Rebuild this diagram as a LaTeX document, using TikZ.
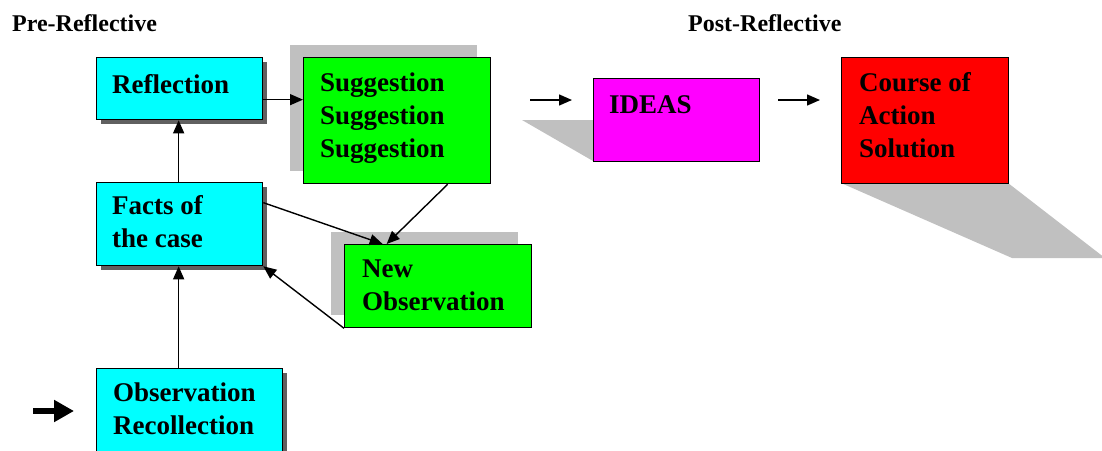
\documentclass[tikz,border=0pt]{standalone}
\usepackage{fontspec}
\setmainfont{Liberation Serif}
\usetikzlibrary{arrows.meta}

\definecolor{boxcyan}{RGB}{0,255,255}
\definecolor{boxgreen}{RGB}{0,255,0}
\definecolor{boxmagenta}{RGB}{255,0,255}
\definecolor{boxred}{RGB}{255,0,0}
\definecolor{panelgray}{RGB}{192,192,192}
\definecolor{edgeshadow}{RGB}{96,96,96}

\begin{document}
\begin{tikzpicture}[x=1pt,y=-1pt,
  box/.style={draw=black, line width=1.3pt, rectangle, inner sep=0pt, anchor=north west},
  cyanbox/.style={box, fill=boxcyan,
    preaction={fill=edgeshadow, transform canvas={xshift=4pt,yshift=-4pt}}},
  greenbox/.style={box, fill=boxgreen,
    preaction={fill=panelgray, transform canvas={xshift=-14pt,yshift=13pt}}},
  lbl/.style={anchor=base west, inner sep=0pt,
    font=\fontsize{27}{33}\selectfont\bfseries},
  head/.style={anchor=base west, inner sep=0pt,
    font=\fontsize{24}{28}\selectfont\bfseries},
  arr/.style={draw=black, line width=1.4pt, -{Triangle[length=13pt,width=11pt]}},
  bigarr/.style={draw=black, line width=5.5pt, -{Triangle[length=20pt,width=21pt]}}]

\useasboundingbox (0,0) rectangle (1102,450);

% headings
\node[head] (pre)  at (12,31)  {Pre-Reflective};
\node[head] (post) at (688,31) {Post-Reflective};

% perspective shadows of the post-reflective boxes
\fill[panelgray] (522,120) -- (680,120) -- (680,161) -- (593,161) -- cycle;
\fill[panelgray] (841,183) -- (1008,183) -- (1102,255.7) -- (1102,258) -- (1012,258) -- cycle;

% pre-reflective boxes
\node[cyanbox, minimum width=166pt, minimum height=62pt]  (refl)   at (96,57)  {};
\node[cyanbox, minimum width=166pt, minimum height=83pt]  (facts)  at (96,182) {};
\node[cyanbox, minimum width=186pt, minimum height=100pt] (obs)    at (96,368) {};
\node[greenbox, minimum width=187pt, minimum height=126pt] (sugg)  at (303,57) {};
\node[greenbox, minimum width=187pt, minimum height=83pt]  (newobs) at (344,244) {};

% post-reflective boxes
\node[box, fill=boxmagenta, minimum width=166pt, minimum height=83pt]  (ideas)  at (593,78) {};
\node[box, fill=boxred,     minimum width=167pt, minimum height=126pt] (course) at (841,57) {};

% box texts
\node[lbl] (t-refl)   at ([shift={(16,36)}]refl.north west)   {Reflection};
\node[lbl] (t-sugg)   at ([shift={(17,34)}]sugg.north west)   {\vtop{\hbox{Suggestion}\hbox{Suggestion}\hbox{Suggestion}}};
\node[lbl] (t-facts)  at ([shift={(16,32)}]facts.north west)  {\vtop{\hbox{Facts of}\hbox{the case}}};
\node[lbl] (t-obs)    at ([shift={(17,33)}]obs.north west)    {\vtop{\hbox{Observation}\hbox{Recollection}}};
\node[lbl] (t-newobs) at ([shift={(18,33)}]newobs.north west) {\vtop{\hbox{New}\hbox{Observation}}};
\node[lbl] (t-ideas)  at ([shift={(16,35)}]ideas.north west)  {IDEAS};
\node[lbl] (t-course) at ([shift={(18,34)}]course.north west) {\vtop{\hbox{Course of}\hbox{Action}\hbox{Solution}}};

% connectors
\draw[arr] ([xshift=-1pt]facts.south |- obs.north) -- ([xshift=-1pt]facts.south);
\draw[arr] ([xshift=-1pt]facts.north) -- ([xshift=-1pt]refl.south);
\draw[arr] ([yshift=-11pt]refl.east) -- ([yshift=-11pt]refl.east -| sugg.west);
\draw[arr] ([xshift=50.5pt]sugg.south) -- ([xshift=-51.5pt]newobs.north);
\draw[arr] ([yshift=21.5pt]facts.east) -- ([xshift=-55.5pt]newobs.north);
\draw[arr] (newobs.south west) -- (facts.south east);

% free-standing arrows
\coordinate (inA) at (33,411);
\coordinate (inB) at (74,411);
\draw[bigarr] (inA) -- (inB);
\coordinate (idA) at (530,100);
\coordinate (idB) at (572,100);
\draw[arr] (idA) -- (idB);
\coordinate (coA) at (778,100);
\coordinate (coB) at (820,100);
\draw[arr] (coA) -- (coB);
\end{tikzpicture}
\end{document}
